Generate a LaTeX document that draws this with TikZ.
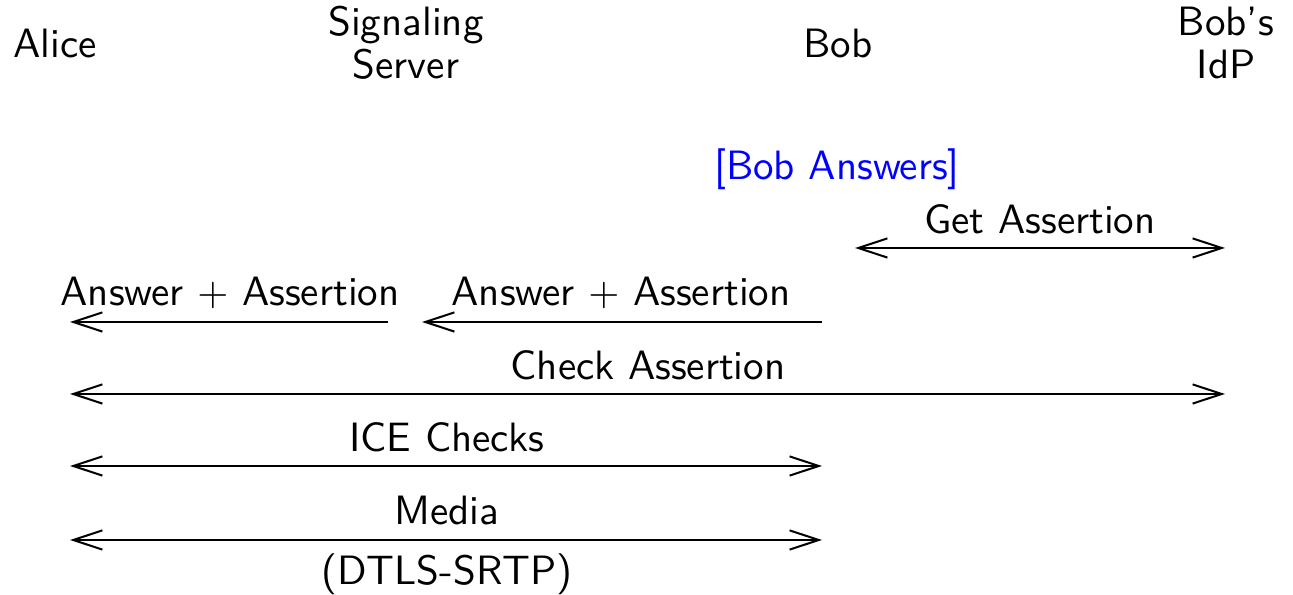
\documentclass[tikz,border=0pt]{standalone}
\usetikzlibrary{arrows.meta}
\begin{document}
\begin{tikzpicture}[x=0.25pt,y=-0.25pt,
  lbl/.style={anchor=base, font=\sffamily\fontsize{10.25}{12}\selectfont, inner sep=0pt},
  note/.style={lbl, text=blue},
  tip/.tip={Straight Barb[length=7.3pt,width=4.8pt,line width=0.5pt]},
  msg/.style={line width=0.5pt, {tip}-{tip}},
  onew/.style={line width=0.5pt, {tip}-}]
\useasboundingbox (0,0) rectangle (1293,595);
% participants
\node[lbl] (alice) at (55,58) {Alice};
\node[lbl] (server) at (406,36) {Signaling};
\node[lbl] (server2) at (406,79) {Server};
\node[lbl] (bob) at (838,58) {Bob};
\node[lbl] (idp) at (1226,36) {Bob's};
\node[lbl] (idp2) at (1226,79) {IdP};
\node[note] (ans) at (837,180) {[Bob Answers]};
% endpoints
\coordinate (ga1) at (855,248); \coordinate (ga2) at (1225,248);
\coordinate (aa1) at (70,322);  \coordinate (aa2) at (388,322);
\coordinate (ab1) at (422,322); \coordinate (ab2) at (822,322);
\coordinate (ca1) at (70,394);  \coordinate (ca2) at (1225,394);
\coordinate (ic1) at (70,466);  \coordinate (ic2) at (822,466);
\coordinate (me1) at (70,540);  \coordinate (me2) at (822,540);
% messages
\draw[msg] (ga1) -- (ga2);
\node[lbl] (lga) at (1040,234) {Get Assertion};
\draw[onew] (aa1) -- (aa2);
\node[lbl] (laa) at (230,306) {Answer $+$ Assertion};
\draw[onew] (ab1) -- (ab2);
\node[lbl] (lab) at (621,306) {Answer $+$ Assertion};
\draw[msg] (ca1) -- (ca2);
\node[lbl] (lca) at (648,380) {Check Assertion};
\draw[msg] (ic1) -- (ic2);
\node[lbl] (lic) at (447,452) {ICE Checks};
\draw[msg] (me1) -- (me2);
\node[lbl] (lme) at (447,525) {Media};
\node[lbl] (lme2) at (447,585) {(DTLS-SRTP)};
\end{tikzpicture}
\end{document}
